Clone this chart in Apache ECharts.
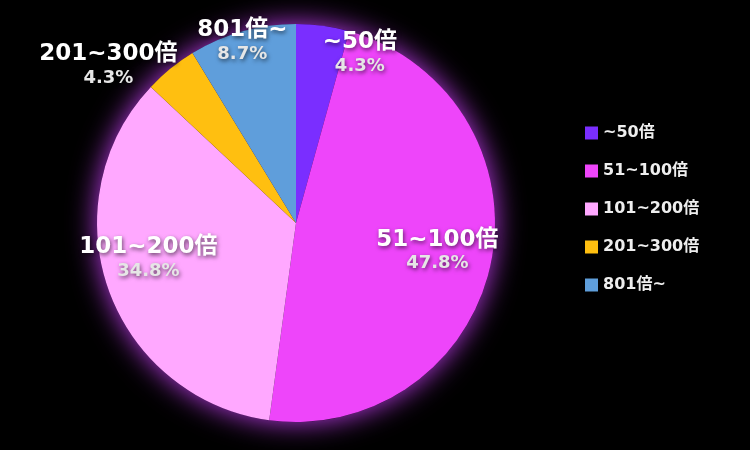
<!DOCTYPE html>
<html>
<head>
<meta charset="utf-8">
<script src="https://cdn.jsdelivr.net/npm/echarts@6/dist/echarts.min.js"></script>
<style>
  html, body { margin: 0; padding: 0; background: #000; }
  #chart { width: 750px; height: 450px; }
</style>
</head>
<body>
<div id="chart"></div>
<script>
// data
const categories = ["~50倍", "51~100倍", "101~200倍", "201~300倍", "801倍~"];
const percents = [4.3, 47.8, 34.8, 4.3, 8.7];
const colors = ["#7a2eff", "#ee45fa", "#ffa8ff", "#ffbf10", "#5f9edb"];

// label nudges from the default "inside" spot (layout only)
const labelShift = [
  [50, -68],
  [41, 7],
  [-51, 1],
  [-123, -78],
  [-26, -83],
];

const font = '"DejaVu Sans", "Noto Sans CJK JP", sans-serif';

const chart = echarts.init(document.getElementById("chart"));

const option = {
  backgroundColor: "#000",
  legend: {
    orient: "vertical",
    left: 580,
    top: 120,
    itemWidth: 13,
    itemHeight: 13,
    itemGap: 22,
    icon: "rect",
    data: categories,
    textStyle: {
      color: "#eeeeee",
      fontSize: 16,
      fontWeight: "bold",
      fontFamily: font,
    },
  },
  series: [
    {
      // glow behind the pie
      type: "pie",
      silent: true,
      center: [296, 223],
      radius: 199,
      z: 1,
      label: { show: false },
      labelLine: { show: false },
      itemStyle: {
        color: "#2a0833",
        shadowBlur: 28,
        shadowColor: "rgba(190, 60, 235, 1)",
      },
      data: [{ value: 1, name: "" }],
      legendHoverLink: false,
    },
    {
      type: "pie",
      center: [296, 223],
      radius: 199,
      startAngle: 90,
      clockwise: true,
      z: 2,
      data: categories.map((name, i) => ({
        name,
        value: percents[i],
        itemStyle: { color: colors[i] },
      })),
      label: {
        show: true,
        position: "inside",
        formatter: (p) => `{n|${p.name}}\n{p|${p.value}%}`,
        textShadowColor: "rgba(0,0,0,0.6)",
        textShadowBlur: 4,
        textShadowOffsetX: 1,
        textShadowOffsetY: 2,
        rich: {
          n: {
            fontSize: 23,
            fontWeight: "bold",
            color: "#ffffff",
            fontFamily: font,
            lineHeight: 26,
          },
          p: {
            fontSize: 18,
            fontWeight: "bold",
            color: "#e6e6e6",
            fontFamily: font,
            lineHeight: 22,
          },
        },
      },
      labelLayout: (params) => ({
        dx: labelShift[params.dataIndex][0],
        dy: labelShift[params.dataIndex][1],
      }),
      labelLine: { show: false },
    },
  ],
};

chart.setOption(option);
</script>
</body>
</html>
